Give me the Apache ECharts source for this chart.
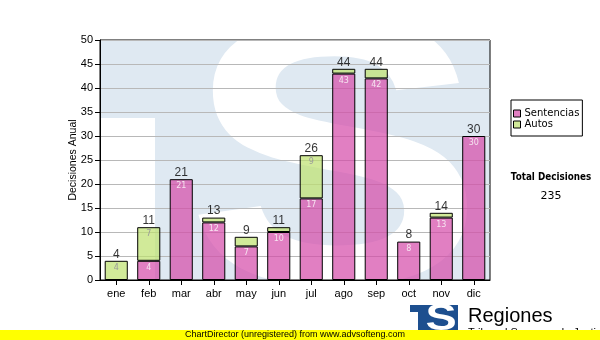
<!DOCTYPE html>
<html>
<head>
<meta charset="utf-8">
<script src="https://cdn.jsdelivr.net/npm/echarts@6/dist/echarts.min.js"></script>
<style>
  html, body { margin: 0; padding: 0; background: #ffffff; }
  #chart { width: 600px; height: 340px; }
</style>
</head>
<body>
<div id="chart"></div>
<script>
// Monthly decisions, split by type
const months = ['ene', 'feb', 'mar', 'abr', 'may', 'jun', 'jul', 'ago', 'sep', 'oct', 'nov', 'dic'];
const sentencias = [0, 4, 21, 12, 7, 10, 17, 43, 42, 8, 13, 30];
const autos = [4, 7, 0, 1, 2, 1, 9, 1, 2, 0, 1, 0];
const yMin = 0;
const yMax = 50;
const yStep = 5;

const totals = months.map((m, i) => sentencias[i] + autos[i]);
const grandTotal = totals.reduce((a, b) => a + b, 0);

// zero segments are left out so they draw no outline
const asBars = arr => arr.map(v => (v === 0 ? null : v));

const FONT = 'Liberation Sans, Arial, sans-serif';
const FONT_V = 'DejaVu Sans, Verdana, sans-serif';

const plot = { left: 100, top: 40, width: 390, height: 240 };

const chart = echarts.init(document.getElementById('chart'), null, { renderer: 'canvas' });

const insideLabel = color => ({
  show: true,
  position: 'insideTop',
  distance: 3,
  fontFamily: FONT_V,
  fontSize: 8,
  color: color,
  formatter: p => (p.value >= 3 ? String(p.value) : '')
});

chart.setOption({
  animation: false,
  backgroundColor: '#ffffff',
  textStyle: { fontFamily: FONT },
  grid: {
    left: plot.left,
    top: plot.top,
    width: plot.width,
    height: plot.height,
    show: true,
    borderColor: '#000000',
    borderWidth: 1,
    backgroundColor: 'transparent',
    containLabel: false
  },
  legend: {
    data: ['Sentencias', 'Autos'],
    orient: 'vertical',
    left: 511,
    top: 100,
    padding: [8, 3, 6, 2],
    itemGap: 0,
    itemWidth: 7,
    itemHeight: 7,
    icon: 'rect',
    borderColor: '#000000',
    borderWidth: 1,
    backgroundColor: '#ffffff',
    itemStyle: { borderColor: '#000000', borderWidth: 1 },
    textStyle: { fontFamily: FONT_V, fontSize: 10, color: '#000000', lineHeight: 11, padding: [0, 0, 0, -1] }
  },
  xAxis: {
    type: 'category',
    data: months,
    axisLine: { show: true, lineStyle: { color: '#000000', width: 1 } },
    axisTick: { show: true, alignWithLabel: true, length: 5, lineStyle: { color: '#000000' } },
    axisLabel: { fontFamily: FONT, fontSize: 11, color: '#000000', margin: 8 },
    splitLine: { show: false }
  },
  yAxis: {
    type: 'value',
    min: yMin,
    max: yMax,
    interval: yStep,
    name: 'Decisiones Anual',
    nameLocation: 'middle',
    nameGap: 21,
    nameMoveOverlap: false,
    nameTextStyle: { fontFamily: FONT, fontSize: 10.5, color: '#000000' },
    axisLine: { show: true, lineStyle: { color: '#000000', width: 1 } },
    axisTick: { show: true, length: 5, lineStyle: { color: '#000000' } },
    axisLabel: { fontFamily: FONT, fontSize: 11, color: '#000000', margin: 7 },
    splitLine: { show: true, lineStyle: { color: '#b8b8b8', width: 1 } }
  },
  series: [
    {
      name: 'Sentencias',
      type: 'bar',
      stack: 'decisiones',
      barCategoryGap: '29%',
      data: asBars(sentencias),
      itemStyle: { color: 'rgba(212,72,168,0.7)', borderColor: '#000000', borderWidth: 1 },
      label: insideLabel('#f6e4f0'),
      z: 3
    },
    {
      name: 'Autos',
      type: 'bar',
      stack: 'decisiones',
      barCategoryGap: '29%',
      data: asBars(autos),
      itemStyle: { color: 'rgba(190,225,110,0.7)', borderColor: '#000000', borderWidth: 1 },
      label: insideLabel('#9a9a9a'),
      z: 3
    },
    {
      name: 'Total',
      type: 'scatter',
      data: totals,
      symbol: 'rect',
      symbolSize: 1,
      itemStyle: { color: 'transparent' },
      label: {
        show: true,
        position: 'top',
        distance: 0,
        fontFamily: FONT,
        fontSize: 12,
        color: '#000000'
      },
      silent: true,
      z: 4
    }
  ],
  graphic: [
    // watermark logo behind the plot
    {
      type: 'rect', z: -10, silent: true,
      shape: { x: plot.left, y: plot.top, width: plot.width, height: plot.height },
      style: { fill: '#dfe9f2' }
    },
    {
      type: 'rect', z: -9, silent: true,
      shape: { x: plot.left, y: 118, width: 55, height: plot.top + plot.height - 118 },
      style: { fill: '#ffffff' }
    },
    {
      type: 'text', z: -9, silent: true,
      x: 335, y: 178, scaleX: 1.18,
      style: {
        text: 'S', x: 0, y: 0,
        font: 'bold 380px Liberation Sans',
        fill: '#ffffff',
        align: 'center',
        verticalAlign: 'middle'
      }
    },
    // side summary
    {
      type: 'text', silent: true,
      x: 551, y: 177, scaleX: 0.88,
      style: {
        text: 'Total Decisiones', x: 0, y: 0,
        font: 'bold 10px DejaVu Sans', fill: '#000000',
        align: 'center', verticalAlign: 'middle'
      }
    },
    {
      type: 'text', silent: true,
      style: {
        text: String(grandTotal), x: 551, y: 196,
        font: '11px DejaVu Sans', fill: '#000000',
        align: 'center', verticalAlign: 'middle'
      }
    },
    // footer logo
    {
      type: 'rect', silent: true,
      shape: { x: 410, y: 305, width: 48, height: 7 },
      style: { fill: '#1d4f8f' }
    },
    {
      type: 'rect', silent: true,
      shape: { x: 418, y: 312, width: 40, height: 24 },
      style: { fill: '#1d4f8f' }
    },
    {
      type: 'text', silent: true,
      x: 441, y: 320, scaleX: 1.3,
      style: {
        text: 'S', x: 0, y: 0,
        font: 'bold 36px Liberation Sans',
        fill: '#ffffff',
        align: 'center', verticalAlign: 'middle'
      }
    },
    {
      type: 'text', silent: true,
      style: {
        text: 'Regiones', x: 468, y: 316,
        font: '20px Liberation Sans', fill: '#000000',
        align: 'left', verticalAlign: 'middle'
      }
    },
    {
      type: 'text', silent: true,
      style: {
        text: 'Tribunal Supremo de Justicia', x: 468, y: 327,
        font: '11px Liberation Sans', fill: '#000000',
        align: 'left', verticalAlign: 'top'
      }
    },
    // footer band
    {
      type: 'rect', silent: true, z: 20,
      shape: { x: 0, y: 330, width: 600, height: 10 },
      style: { fill: '#ffff00' }
    },
    {
      type: 'text', silent: true, z: 21,
      style: {
        text: 'ChartDirector (unregistered) from www.advsofteng.com', x: 295, y: 335,
        font: '9px Liberation Sans', fill: '#000000',
        align: 'center', verticalAlign: 'middle'
      }
    }
  ]
});
</script>
</body>
</html>
